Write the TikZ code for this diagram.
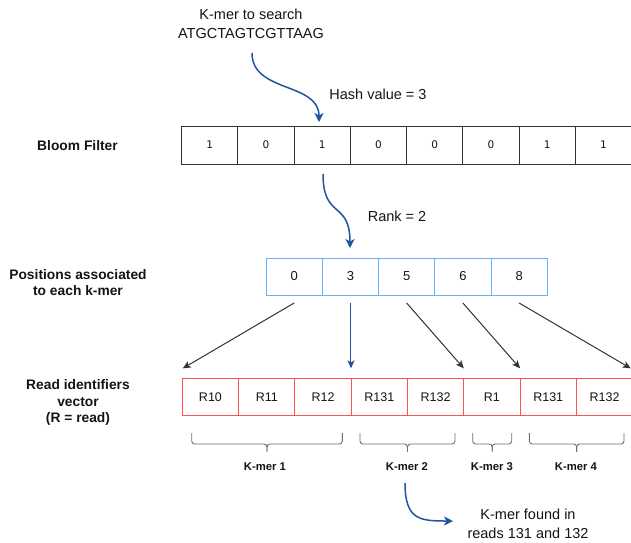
\documentclass[tikz,border=0pt]{standalone}
\usepackage{fontspec}
\setmainfont{Liberation Sans}
\newfontfamily\dvs{DejaVu Sans}
\usetikzlibrary{arrows.meta,calc}
\definecolor{bluearr}{RGB}{34,82,160}
\definecolor{bfline}{RGB}{51,51,51}
\definecolor{posline}{RGB}{102,178,255}
\definecolor{rdline}{RGB}{255,80,80}
\definecolor{braceline}{RGB}{110,110,110}
\definecolor{txt}{RGB}{20,20,20}
\tikzset{
  bfcell/.style={draw=bfline,line width=0.8pt,minimum width=56.25pt,minimum height=38pt,inner sep=0pt,outer sep=0pt,font=\dvs\fontsize{10.5}{12}\selectfont,text=txt},
  poscell/.style={draw=posline,line width=0.9pt,minimum width=56.25pt,minimum height=37pt,inner sep=0pt,outer sep=0pt,font=\fontsize{13}{15}\selectfont,text=txt},
  rdcell/.style={draw=rdline,line width=0.9pt,minimum width=56.3pt,minimum height=36.7pt,inner sep=0pt,outer sep=0pt,font=\fontsize{12.5}{15}\selectfont,text=txt},
  maintext/.style={inner sep=0pt,align=center,text=txt,font=\fontsize{14.5}{19}\selectfont},
  sidelabel/.style={inner sep=0pt,align=center,text=txt,font=\bfseries\fontsize{13.8}{16.7}\selectfont},
  kmerlabel/.style={inner sep=0pt,text=txt,font=\bfseries\fontsize{11.3}{13}\selectfont},
  bluecurve/.style={draw=bluearr,line width=1.5pt,-{Stealth[length=9pt,width=9pt,inset=2.5pt]}},
  bluestraight/.style={draw=bluearr,line width=1pt,-{Stealth[length=8pt,width=7pt,inset=2pt]}},
  blackarr/.style={draw=bfline,line width=1pt,-{Stealth[length=8pt,width=7pt,inset=2pt]}},
  bracestyle/.style={draw=braceline,line width=0.9pt,rounded corners=3pt}
}
\begin{document}
\begin{tikzpicture}[x=1pt,y=-1pt]
\useasboundingbox (0,0) rectangle (631,542);

% texts
\node[maintext] (title) at (251,23.5) {K-mer to search\\ATGCTAGTCGTTAAG};
\node[maintext] (hash) at (378,94) {Hash value = 3};
\node[maintext] (rank) at (397,216) {Rank = 2};
\node[maintext] (found) at (528,524) {K-mer found in\\reads 131 and 132};

\node[sidelabel] (lbf) at (77.5,146) {Bloom Filter};
\node[sidelabel] (lpos) at (78,282.5) {Positions associated\\to each k-mer};
\node[sidelabel] (lrd) at (78,402.7) {Read identifiers\\vector\\(R = read)};

% bloom filter
\foreach \v [count=\i] in {1,0,1,0,0,0,1,1}
  \node[bfcell] (bf\i) at ({181.5+28.125+56.25*(\i-1)},145) {\v};

% positions
\foreach \v [count=\i] in {0,3,5,6,8}
  \node[poscell] (pos\i) at ({266+28.125+56.25*(\i-1)},276.5) {\v};

% reads
\foreach \v [count=\i] in {R10,R11,R12,R131,R132,R1,R131,R132}
  \node[rdcell] (rd\i) at ({182.3+28.15+56.3*(\i-1)},396.7) {\v};

% curved arrows
\coordinate (c1s) at (252,53);
\coordinate (c1e) at (319,122);
\draw[bluecurve] (c1s) .. controls (252,93) and (319,82) .. (c1e);
\coordinate (c2s) at (323,174);
\coordinate (c2e) at (350,248);
\draw[bluecurve] (c2s) .. controls (323,220) and (350,200) .. (c2e);
\coordinate (c3s) at (405,483);
\coordinate (c3e) at (453,521);
\draw[bluecurve] (c3s) .. controls (405,520) and (420,521) .. (c3e);

% position -> read arrows
\draw[blackarr] ($(pos1.south)+(0,8)$) -- ($(rd1.north west)+(0.5,-10)$);
\draw[bluestraight] ($(pos2.south)+(0.6,8)$) -- ($(pos2.south |- rd4.north)+(0.6,-10)$);
\draw[blackarr] ($(pos3.south)+(0,8)$) -- ($(rd6.north west)+(0,-10)$);
\draw[blackarr] ($(pos4.south)+(0,8)$) -- ($(rd7.north west)+(0,-10)$);
\draw[blackarr] ($(pos5.south)+(0,8)$) -- ($(rd8.north east)+(-2,-10)$);

% braces
\foreach \a/\b [count=\k] in {191.7/342.3, 360/455, 472.7/511.7, 529.3/624} {
  \pgfmathsetmacro\m{(\a+\b)/2}
  \draw[bracestyle] (\a,433) |- (\m,444) -- (\m,451.5);
  \draw[bracestyle] (\b,433) |- (\m,444) -- (\m,451.5);
}
\node[kmerlabel] (km1) at (265,466.7) {K-mer 1};
\node[kmerlabel] (km2) at (407,466.7) {K-mer 2};
\node[kmerlabel] (km3) at (492,466.7) {K-mer 3};
\node[kmerlabel] (km4) at (576,466.7) {K-mer 4};
\end{tikzpicture}
\end{document}
